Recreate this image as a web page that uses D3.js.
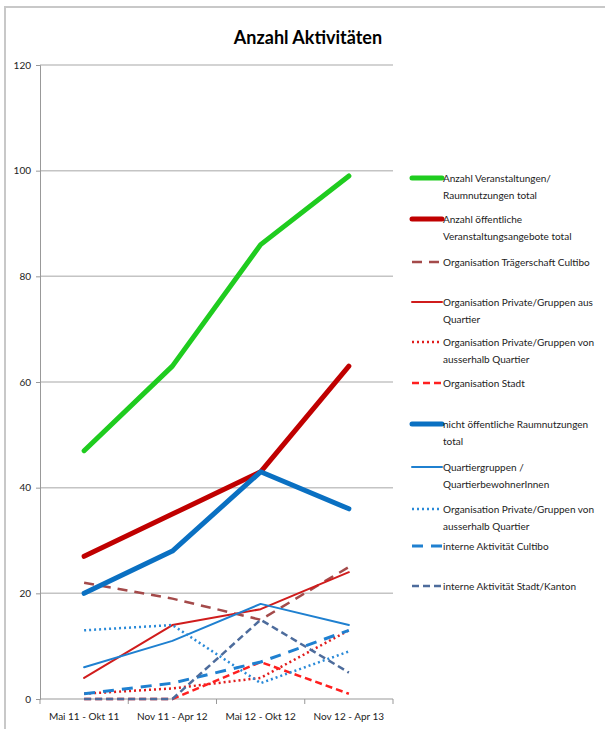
<!DOCTYPE html>
<html>
<head>
<meta charset="utf-8">
<script src="https://cdn.jsdelivr.net/npm/d3@7"></script>
<style>
  body { margin: 0; background: #fff; }
  svg { display: block; font-family: Lato, 'Open Sans', sans-serif; }
</style>
</head>
<body>
<svg></svg>
<script>
const w = 605
const h = 729

const periods = ['Mai 11 - Okt 11', 'Nov 11 - Apr 12', 'Mai 12 - Okt 12', 'Nov 12 - Apr 13']
const yTicks = [0, 20, 40, 60, 80, 100, 120]

const names = [
  ['Anzahl Veranstaltungen/', 'Raumnutzungen total'],
  ['Anzahl öffentliche', 'Veranstaltungsangebote total'],
  ['Organisation Trägerschaft Cultibo'],
  ['Organisation Private/Gruppen aus', 'Quartier'],
  ['Organisation Private/Gruppen von', 'ausserhalb Quartier'],
  ['Organisation Stadt'],
  ['nicht öffentliche Raumnutzungen', 'total'],
  ['Quartiergruppen /', 'QuartierbewohnerInnen'],
  ['Organisation Private/Gruppen von', 'ausserhalb Quartier'],
  ['interne Aktivität Cultibo'],
  ['interne Aktivität Stadt/Kanton']
]

const totalAll = [47, 63, 86, 99]
const totalPublic = [27, 35, 43, 63]
const orgCultibo = [22, 19, 15, 25]
const orgPrivateIn = [4, 14, 17, 24]
const orgPrivateOut = [1, 2, 4, 13]
const orgStadt = [0, 0, 7, 1]
const totalPrivate = [20, 28, 43, 36]
const quartierGroups = [6, 11, 18, 14]
const privateOut = [13, 14, 3, 9]
const internCultibo = [1, 3, 7, 13]
const internStadt = [0, 0, 15, 5]

const series = [totalAll, totalPublic, orgCultibo, orgPrivateIn, orgPrivateOut, orgStadt,
  totalPrivate, quartierGroups, privateOut, internCultibo, internStadt]

// look of each series, same order as above
const styles = [
  { c: '#1fcc1f', sw: 5, dash: null },
  { c: '#c00000', sw: 5, dash: null },
  { c: '#a44a4a', sw: 2.5, dash: '10,7' },
  { c: '#d01c1c', sw: 2, dash: null },
  { c: '#e01c1c', sw: 2.5, dash: '2,3' },
  { c: '#ff1f1f', sw: 2.5, dash: '7,4' },
  { c: '#0a70c2', sw: 5, dash: null },
  { c: '#1f80d0', sw: 2, dash: null },
  { c: '#2a8ad8', sw: 2.5, dash: '2,3' },
  { c: '#1f80d0', sw: 3, dash: '11,8' },
  { c: '#4d6c9c', sw: 2.5, dash: '7,4' }
]
const legendY = [178, 219, 262, 302, 342, 383, 424, 467, 509, 546, 586]

const mLeft = 40
const mRight = 393
const mTop = 65
const mBottom = 699

const svg = d3.select('svg').attr('width', w).attr('height', h)

// frame
svg.append('rect')
  .attr('x', 5).attr('y', 7)
  .attr('width', w + 10).attr('height', h + 10)
  .attr('fill', 'none').attr('stroke', '#c8c8c8').attr('stroke-width', 2)

svg.append('text')
  .attr('x', 308).attr('y', 44)
  .attr('text-anchor', 'middle')
  .attr('font-size', 18).attr('font-weight', 'bold')
  .text('Anzahl Aktivitäten')

const x = d3.scaleBand().domain(periods).range([mLeft, mRight])
const y = d3.scaleLinear().domain([0, 120]).range([mBottom, mTop])
const cx = i => x(periods[i]) + x.bandwidth() / 2

// gridlines
svg.append('g').selectAll('line')
  .data(yTicks.filter(t => t > 0))
  .enter().append('line')
  .attr('x1', mLeft).attr('x2', mRight)
  .attr('y1', d => y(d)).attr('y2', d => y(d))
  .attr('stroke', '#c4c4c4').attr('stroke-width', 1.5)

const yAxis = d3.axisLeft(y).tickValues(yTicks).tickSize(4).tickPadding(5)
const gy = svg.append('g')
  .attr('transform', `translate(${mLeft}, 0)`)
  .call(yAxis)
gy.select('.domain').attr('stroke', '#999')
gy.selectAll('.tick line').attr('stroke', '#999')
gy.selectAll('text').attr('font-size', 10).attr('font-family', 'Lato, sans-serif').attr('fill', '#222')

const xAxis = d3.axisBottom(x).tickSize(0).tickPadding(14)
const gx = svg.append('g')
  .attr('transform', `translate(0, ${mBottom})`)
  .call(xAxis)
gx.select('.domain').attr('stroke', '#999').attr('d', `M${mLeft},0H${mRight}`)
gx.selectAll('text').attr('font-size', 10).attr('font-family', 'Lato, sans-serif').attr('fill', '#222')
gx.selectAll('.sep')
  .data(d3.range(periods.length + 1))
  .enter().append('line')
  .attr('x1', i => mLeft + i * x.step()).attr('x2', i => mLeft + i * x.step())
  .attr('y1', 0).attr('y2', 5)
  .attr('stroke', '#999')

const line = d3.line()
  .x((d, i) => cx(i))
  .y(d => y(d))

// draw thin ones first, totals on top
const order = [2, 3, 4, 5, 7, 8, 9, 10, 0, 1, 6]
svg.append('g').selectAll('path')
  .data(order)
  .enter().append('path')
  .attr('d', k => line(series[k]))
  .attr('fill', 'none')
  .attr('stroke', k => styles[k].c)
  .attr('stroke-width', k => styles[k].sw)
  .attr('stroke-dasharray', k => styles[k].dash)
  .attr('stroke-linecap', k => styles[k].dash ? 'butt' : 'round')
  .attr('stroke-linejoin', 'round')

// legend
const lg = svg.append('g')
const item = lg.selectAll('g')
  .data(names)
  .enter().append('g')
  .attr('transform', (d, i) => `translate(412, ${legendY[i]})`)

item.append('line')
  .attr('x1', 0).attr('x2', 30)
  .attr('stroke', (d, i) => styles[i].c)
  .attr('stroke-width', (d, i) => styles[i].sw)
  .attr('stroke-dasharray', (d, i) => styles[i].dash)
  .attr('stroke-linecap', (d, i) => styles[i].dash ? 'butt' : 'round')

item.selectAll('text')
  .data(d => d)
  .enter().append('text')
  .attr('x', 31)
  .attr('y', (d, j) => 3.5 + j * 17)
  .attr('font-size', 10)
  .attr('fill', '#222')
  .text(d => d)
</script>
</body>
</html>
